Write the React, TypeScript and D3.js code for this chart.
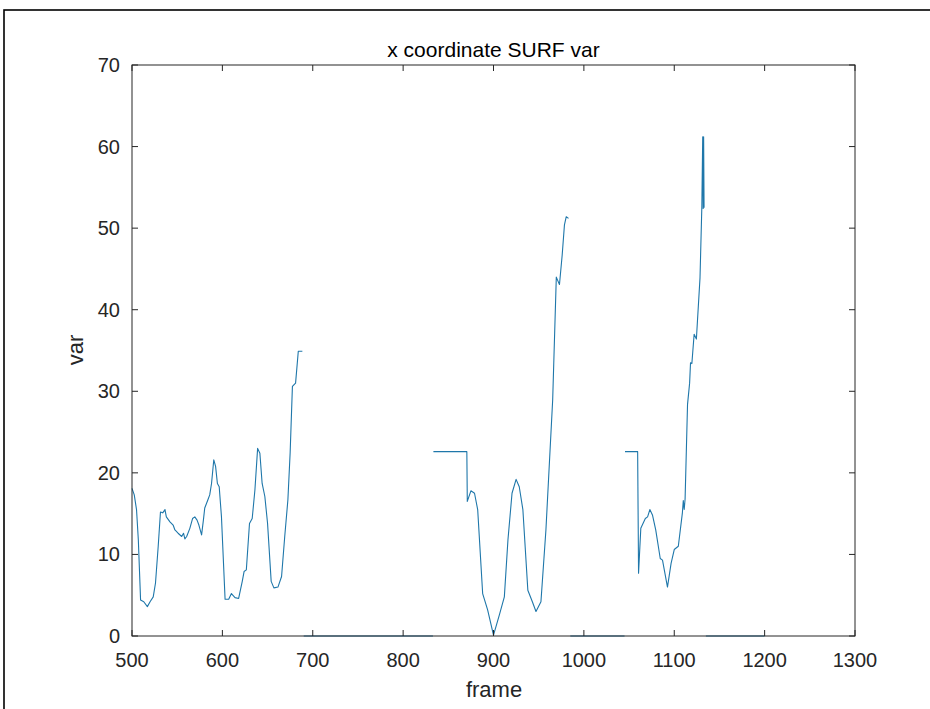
import React from "react";
import * as d3 from "d3";

const frames: number[] = [
  500, 502.5, 505, 507, 509.5, 513, 517, 520, 523.5, 526, 529, 531.5, 534, 536.5, 538, 542, 545.5, 547.5, 551, 555,
  557, 558.5, 560.5, 564, 567, 569.5, 572, 574, 577, 579, 580.5, 584, 586, 588, 590.5, 592.5, 594.5, 596.5, 599, 603,
  607, 610, 614, 618, 622, 624, 626.5, 630, 633, 636, 639, 641.5, 644, 647, 650, 654, 657, 661.5, 665.5, 669,
  672.5, 675, 677.5, 681, 684, 688.5,
  689,
  690, 833,
  833,
  833.5, 870.5, 871, 875, 879, 882.5, 888, 893.5, 900, 906.5, 912, 916, 920.5, 925, 928.5, 932.5, 938, 943, 947, 952.5,
  958, 965.5, 969.5, 971, 973, 976, 978.5, 980.5, 983,
  984,
  985, 1045,
  1045,
  1045.5, 1059.5, 1060.5, 1063, 1068, 1070.5, 1073, 1076, 1079.5, 1084.5, 1087, 1092.5, 1096.5, 1100, 1104.5, 1109,
  1110, 1111, 1112, 1114.7, 1117, 1118, 1119.5, 1122, 1124.5, 1128.5, 1130.5, 1131.5, 1132, 1132.5, 1133,
  1134,
  1135, 1200,
];

const values: (number | null)[] = [
  18.1, 17.3, 15.5, 11.8, 4.4, 4.2, 3.6, 4.2, 4.8, 6.5, 11, 15.2, 15.1, 15.5, 14.6, 14.0, 13.6, 13.0, 12.6, 12.2,
  12.6, 11.9, 12.2, 13.2, 14.4, 14.6, 14.2, 13.6, 12.4, 14.2, 15.7, 16.7, 17.3, 18.7, 21.6, 20.8, 18.7, 18.3, 14.6, 4.5,
  4.5, 5.2, 4.7, 4.6, 6.7, 7.9, 8.1, 13.8, 14.4, 17.9, 23.0, 22.4, 18.7, 17.1, 13.8, 6.7, 5.9, 6.0, 7.3, 12.2,
  16.7, 22.5, 30.6, 31.0, 34.9, 34.9,
  null,
  0, 0,
  null,
  22.6, 22.6, 16.5, 17.8, 17.5, 15.5, 5.2, 3.2, 0.1, 2.6, 4.8, 11.8, 17.5, 19.2, 18.3, 15.5, 5.6, 4.2, 3.0, 4.2,
  13, 29, 44.0, 43.6, 43.1, 46.7, 50.4, 51.4, 51.2,
  null,
  0, 0,
  null,
  22.6, 22.6, 7.7, 13.2, 14.4, 14.6, 15.5, 14.8, 13, 9.5, 9.3, 6.0, 8.9, 10.6, 11.0, 15.1,
  16.6, 15.5, 16.8, 28.4, 31, 33.5, 33.4, 37.0, 36.4, 43.9, 52.5, 61.2, 52.4, 61.2, 52.5,
  null,
  0, 0,
];

const xTicks = [500, 600, 700, 800, 900, 1000, 1100, 1200, 1300];
const yTicks = [0, 10, 20, 30, 40, 50, 60, 70];

const W = 930;
const H = 709;
const L = 132;
const R = 855;
const T = 65;
const B = 636;
const FONT = "'Liberation Sans', Arial, Helvetica, sans-serif";
const AX = "#262626";

export default function App() {
  const x = d3.scaleLinear().domain([500, 1300]).range([L, R]);
  const y = d3.scaleLinear().domain([0, 70]).range([B, T]);
  const pts = frames.map((f, i) => [f, values[i]] as [number, number | null]);
  const line = d3
    .line<[number, number | null]>()
    .defined((d) => d[1] !== null)
    .x((d) => x(d[0]))
    .y((d) => y(d[1] as number));
  const tl = 6;
  return (
    <svg width={W} height={H} style={{ position: "absolute", left: 0, top: 0, background: "#fff" }}>
      <rect x={0} y={0} width={W} height={H} fill="#fff" />
      <rect x={4} y={10} width={W + 10} height={H + 20} fill="none" stroke="#000" strokeWidth={1.6} />
      <text x={(L + R) / 2} y={57} textAnchor="middle" fontFamily={FONT} fontSize={21} fill="#000">
        x coordinate SURF var
      </text>
      <path d={line(pts) || ""} fill="none" stroke="#1f77aa" strokeWidth={1.1} strokeLinejoin="round" />
      <rect x={L} y={T} width={R - L} height={B - T} fill="none" stroke={AX} strokeWidth={1} />
      {xTicks.map((t) => (
        <g key={"x" + t}>
          <line x1={x(t)} x2={x(t)} y1={B} y2={B - tl} stroke={AX} />
          <line x1={x(t)} x2={x(t)} y1={T} y2={T + tl} stroke={AX} />
          <text x={x(t)} y={667} textAnchor="middle" fontFamily={FONT} fontSize={20} fill={AX}>
            {t}
          </text>
        </g>
      ))}
      {yTicks.map((t) => (
        <g key={"y" + t}>
          <line x1={L} x2={L + tl} y1={y(t)} y2={y(t)} stroke={AX} />
          <line x1={R} x2={R - tl} y1={y(t)} y2={y(t)} stroke={AX} />
          <text x={120} y={y(t) + 7} textAnchor="end" fontFamily={FONT} fontSize={20} fill={AX}>
            {t}
          </text>
        </g>
      ))}
      <text x={494} y={697} textAnchor="middle" fontFamily={FONT} fontSize={22} fill={AX}>
        frame
      </text>
      <text
        transform={`translate(83,350) rotate(-90)`}
        textAnchor="middle"
        fontFamily={FONT}
        fontSize={22}
        fill={AX}
      >
        var
      </text>
    </svg>
  );
}
